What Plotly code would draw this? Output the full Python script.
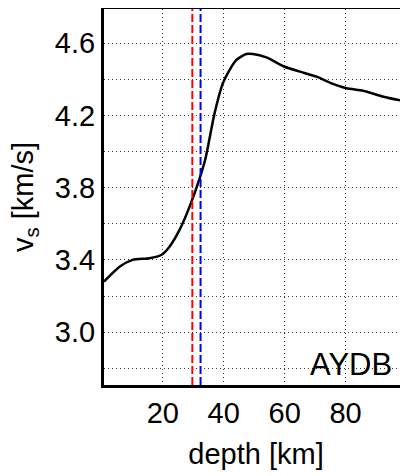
import plotly.graph_objects as go

depth = [0.7, 5.8, 10.1, 15.6, 19.5, 22.2, 25.5, 28.8, 32.1, 34.0, 37.0, 39.7, 41.9, 44.1, 47.4,
         49.6, 54.0, 60.0, 65.0, 70.5, 75.9, 80.3, 85.8, 92.4, 100.5]
vs = [3.28, 3.362, 3.40, 3.409, 3.427, 3.473, 3.566, 3.695, 3.852, 3.96, 4.212, 4.378, 4.452,
      4.507, 4.541, 4.541, 4.522, 4.47, 4.443, 4.415, 4.375, 4.351, 4.337, 4.304, 4.275]
moho_red = 29.7
moho_blue = 32.4
station = "AYDB"
xticks = [20, 40, 60, 80]
yticks = [2.8, 3.0, 3.2, 3.4, 3.6, 3.8, 4.0, 4.2, 4.4, 4.6]
ylabels = ["", "3.0", "", "3.4", "", "3.8", "", "4.2", "", "4.6"]

FONT = "Liberation Sans, Arial, sans-serif"

fig = go.Figure()
fig.add_trace(go.Scatter(x=depth, y=vs, mode="lines", line=dict(color="black", width=2.5, shape="spline", smoothing=0.6),
                         showlegend=False, hoverinfo="skip"))
fig.add_vline(x=moho_red, line=dict(color="#ff0000", width=2, dash="8px,3px"))
fig.add_vline(x=moho_blue, line=dict(color="#0000ff", width=2, dash="8px,3px"))

fig.add_annotation(x=1, y=0, xref="paper", yref="paper", xanchor="right", yanchor="bottom",
                   xshift=-14, yshift=1, text=station, showarrow=False,
                   font=dict(family=FONT, size=31, color="black"))

fig.add_annotation(x=0, y=0.5, xref="paper", yref="paper", xanchor="center", yanchor="middle",
                   xshift=-79, textangle=-90, text="v<sub>s</sub> [km/s]", showarrow=False,
                   font=dict(family=FONT, size=29, color="black"))

fig.update_layout(
    width=400, height=468,
    margin=dict(l=96, r=0, t=1, b=91),
    paper_bgcolor="white", plot_bgcolor="white",
    font=dict(family=FONT, size=29, color="black"),
    xaxis=dict(range=[0.7, 100.5], tickvals=xticks, showgrid=True, gridcolor="#333333",
               griddash="1px,3px", gridwidth=1, showline=True, linecolor="black", linewidth=3,
               mirror=True, ticks="", zeroline=False,
               automargin=False,
               title=dict(text="depth [km]", font=dict(size=29), standoff=16)),
    yaxis=dict(range=[2.707, 4.79], tickvals=yticks, ticktext=ylabels, showgrid=True,
               gridcolor="#333333", griddash="1px,3px", gridwidth=1, showline=True,
               linecolor="black", linewidth=3, mirror=False, ticks="", zeroline=False,
               automargin=False),
)

fig.write_html("out.html")
